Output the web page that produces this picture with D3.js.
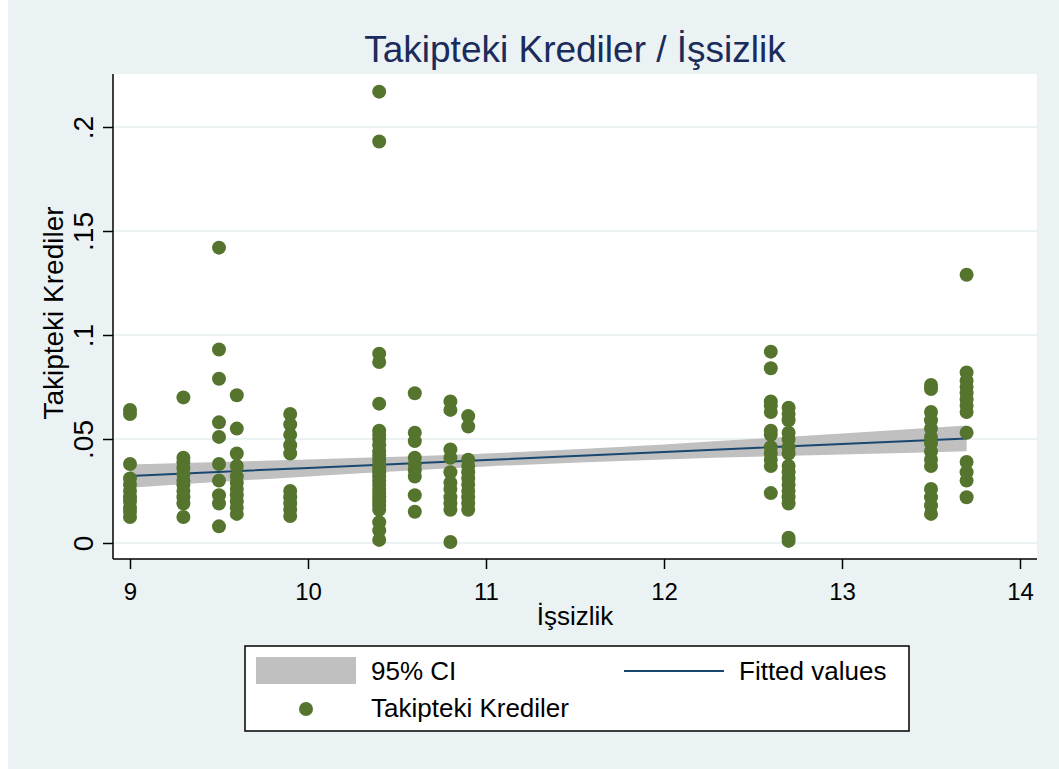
<!DOCTYPE html>
<html>
<head>
<meta charset="utf-8">
<script src="https://cdn.jsdelivr.net/npm/d3@7"></script>
<style>
  body { margin: 0; background: #fff; }
  text { font-family: "Liberation Sans", Arial, sans-serif; }
</style>
</head>
<body>
<svg id="chart" width="1059" height="769"></svg>
<script>
// x values (İşsizlik) and the Takipteki Krediler values read at each one
const xGroups = [9, 9.3, 9.5, 9.6, 9.9, 10.4, 10.6, 10.8, 10.9, 12.6, 12.7, 13.5, 13.7];
const yGroups = [
  [0.064, 0.062, 0.038, 0.031, 0.028, 0.025, 0.022, 0.020, 0.017, 0.015, 0.0125],
  [0.070, 0.041, 0.039, 0.036, 0.033, 0.030, 0.028, 0.025, 0.022, 0.019, 0.0125],
  [0.142, 0.093, 0.079, 0.058, 0.051, 0.038, 0.030, 0.023, 0.019, 0.008],
  [0.071, 0.055, 0.043, 0.037, 0.032, 0.029, 0.026, 0.023, 0.020, 0.017, 0.014],
  [0.062, 0.057, 0.052, 0.047, 0.043, 0.025, 0.022, 0.019, 0.016, 0.013],
  [0.217, 0.193, 0.091, 0.087, 0.067, 0.054, 0.052, 0.050, 0.047, 0.044, 0.042, 0.040, 0.038, 0.036,
   0.034, 0.032, 0.030, 0.028, 0.026, 0.024, 0.022, 0.020, 0.018, 0.016, 0.010, 0.006, 0.0015],
  [0.072, 0.053, 0.049, 0.041, 0.038, 0.035, 0.032, 0.023, 0.015],
  [0.068, 0.064, 0.045, 0.041, 0.034, 0.029, 0.026, 0.022, 0.019, 0.016, 0.0005],
  [0.061, 0.056, 0.040, 0.037, 0.034, 0.031, 0.028, 0.025, 0.022, 0.019, 0.016],
  [0.092, 0.084, 0.068, 0.066, 0.063, 0.054, 0.052, 0.046, 0.043, 0.040, 0.037, 0.024],
  [0.065, 0.062, 0.059, 0.053, 0.050, 0.046, 0.043, 0.037, 0.034, 0.031, 0.028, 0.025, 0.022, 0.019, 0.0025, 0.001],
  [0.076, 0.074, 0.063, 0.059, 0.055, 0.051, 0.048, 0.044, 0.040, 0.037, 0.026, 0.022, 0.018, 0.014],
  [0.129, 0.082, 0.078, 0.075, 0.072, 0.069, 0.066, 0.063, 0.053, 0.039, 0.034, 0.030, 0.022]
];
// fitted line and 95% CI
const fitX = [9, 10, 11, 12, 13, 13.7];
const fitY = [0.0322, 0.0361, 0.0399, 0.0438, 0.0476, 0.0503];
const ciHalf = [0.0056, 0.0041, 0.0031, 0.0036, 0.0051, 0.0062];

const xTicks = [9, 10, 11, 12, 13, 14];
const yTicks = [0, 0.05, 0.1, 0.15, 0.2];
const yTickLabels = ["0", ".05", ".1", ".15", ".2"];

const c_bg = "#eaf2f3", c_dot = "#55752f", c_line = "#1a476f", c_ci = "#c0c0c0";

// flatten points
var points = [];
xGroups.forEach(function(x, i) {
  yGroups[i].forEach(function(y) { points.push({x: x, y: y}); });
});
var fit = fitX.map(function(x, i) {
  return {x: x, y: fitY[i], lo: fitY[i] - ciHalf[i], hi: fitY[i] + ciHalf[i]};
});

const svg = d3.select("#chart");
svg.append("rect").attr("x", 8).attr("y", 0).attr("width", 1051).attr("height", 769).attr("fill", c_bg);

const plot = {left: 113, right: 1037, top: 74, bottom: 559};
var x = d3.scaleLinear().domain([9, 14]).range([130, 1020]);
var y = d3.scaleLinear().domain([0, 0.2]).range([543, 127]);

svg.append("rect")
  .attr("x", plot.left).attr("y", plot.top)
  .attr("width", plot.right - plot.left).attr("height", plot.bottom - plot.top)
  .attr("fill", "#fff");

// grid
svg.append("g").selectAll("line").data(yTicks).enter().append("line")
  .attr("x1", plot.left).attr("x2", plot.right)
  .attr("y1", d => y(d)).attr("y2", d => y(d))
  .attr("stroke", c_bg).attr("stroke-width", 2);

// CI band
svg.append("path").datum(fit)
  .attr("d", d3.area().curve(d3.curveMonotoneX).x(d => x(d.x)).y0(d => y(d.lo)).y1(d => y(d.hi)))
  .attr("fill", c_ci);

// fitted line
svg.append("path").datum(fit)
  .attr("d", d3.line().x(d => x(d.x)).y(d => y(d.y)))
  .attr("fill", "none").attr("stroke", c_line).attr("stroke-width", 2);

// dots
svg.append("g").selectAll("circle").data(points).enter().append("circle")
  .attr("cx", d => x(d.x)).attr("cy", d => y(d.y)).attr("r", 7)
  .attr("fill", c_dot);

// axes
var yAxis = d3.axisLeft(y).tickValues(yTicks).tickSize(10)
  .tickFormat((d, i) => yTickLabels[i]);
var gy = svg.append("g").attr("transform", `translate(${plot.left},0)`).call(yAxis);
gy.select(".domain").attr("d", `M0,${plot.top}V${plot.bottom}`).attr("stroke", "#000").attr("stroke-width", 1.5);
gy.selectAll(".tick line").attr("stroke", "#000").attr("stroke-width", 1.5);
gy.selectAll(".tick text")
  .attr("font-size", 28).attr("fill", "#000")
  .attr("x", 0).attr("dy", 0)
  .attr("text-anchor", "middle")
  .attr("transform", "translate(-20,0) rotate(-90)");

var xAxis = d3.axisBottom(x).tickValues(xTicks).tickSize(10).tickFormat(d3.format("d"));
var gx = svg.append("g").attr("transform", `translate(0,${plot.bottom})`).call(xAxis);
gx.select(".domain").attr("d", `M${plot.left},0H${plot.right}`).attr("stroke", "#000").attr("stroke-width", 1.5);
gx.selectAll(".tick line").attr("stroke", "#000").attr("stroke-width", 1.5);
gx.selectAll(".tick text").attr("font-size", 24).attr("fill", "#000").attr("y", 24);

// titles
svg.append("text").attr("x", 575).attr("y", 62).attr("text-anchor", "middle")
  .attr("font-size", 37).attr("fill", "#1a2b5c").text("Takipteki Krediler / İşsizlik");
svg.append("text").attr("x", 575).attr("y", 625).attr("text-anchor", "middle")
  .attr("font-size", 26).attr("fill", "#000").text("İşsizlik");
svg.append("text").attr("transform", "translate(63,313) rotate(-90)").attr("text-anchor", "middle")
  .attr("font-size", 28).attr("fill", "#000").text("Takipteki Krediler");

// legend
var lg = svg.append("g");
lg.append("rect").attr("x", 245).attr("y", 646).attr("width", 664).attr("height", 85)
  .attr("fill", "#fff").attr("stroke", "#000").attr("stroke-width", 1.5);
lg.append("rect").attr("x", 256).attr("y", 657).attr("width", 100).attr("height", 27).attr("fill", c_ci);
lg.append("text").attr("x", 371).attr("y", 680).attr("font-size", 26).text("95% CI");
lg.append("line").attr("x1", 624).attr("x2", 724).attr("y1", 671).attr("y2", 671)
  .attr("stroke", c_line).attr("stroke-width", 2);
lg.append("text").attr("x", 739).attr("y", 680).attr("font-size", 26).text("Fitted values");
lg.append("circle").attr("cx", 306).attr("cy", 709).attr("r", 7).attr("fill", c_dot);
lg.append("text").attr("x", 371).attr("y", 717).attr("font-size", 26).text("Takipteki Krediler");
</script>
</body>
</html>
